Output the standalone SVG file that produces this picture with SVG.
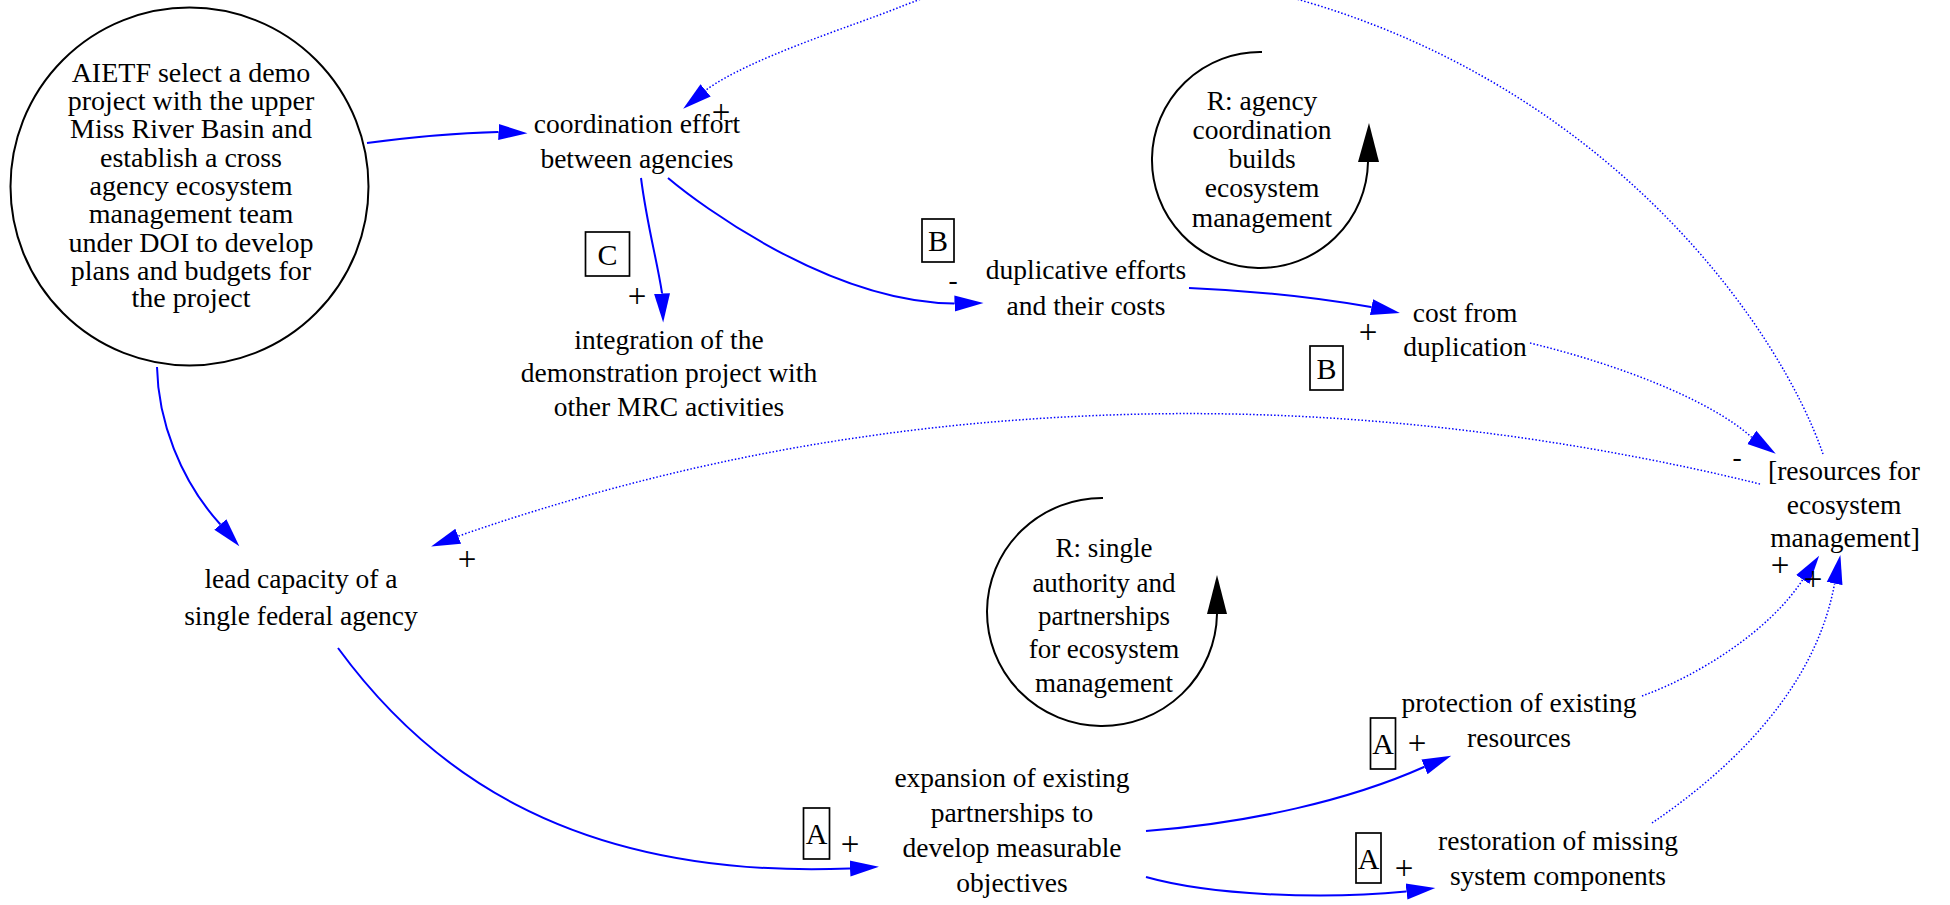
<svg xmlns="http://www.w3.org/2000/svg" width="1950" height="905" viewBox="0 0 1950 905">
<style>
text{font-family:"Liberation Serif","Times New Roman",serif;font-size:27.5px;fill:#000;text-anchor:middle}
.big{font-size:28px}
.lb{font-size:27px}
.pl{font-size:33px}
.box{fill:none;stroke:#000;stroke-width:1.7}
.bl{font-size:30px}
.e{fill:none;stroke:#0000ff;stroke-width:2}
.d{fill:none;stroke:#0000ff;stroke-width:1.5;stroke-dasharray:1.5 2}
.loop{fill:none;stroke:#000;stroke-width:2}
</style>
<defs>
<marker id="ah" markerUnits="userSpaceOnUse" markerWidth="30" markerHeight="20" viewBox="0 -10 30 20" refX="0" refY="0" orient="auto">
<path d="M0,-8 L29,0 L0,8 z" fill="#0000ff"/>
</marker>
</defs>
<rect width="1950" height="905" fill="#fff"/>

<g id="connectors">
<path class="e" marker-end="url(#ah)" d="M367,143 C420,136 460,133 498,132 l0.5,0.02"/>
<path class="e" marker-end="url(#ah)" d="M641,178 C647,225 657,260 662,293 l0.02,0.5"/>
<path class="e" marker-end="url(#ah)" d="M668,178 C700,205 830,302 954,303.5 l0.5,-0.01"/>
<path class="e" marker-end="url(#ah)" d="M1189,288 C1260,291 1320,298 1371,307 l0.49,0.1"/>
<path class="e" marker-end="url(#ah)" d="M157,367 C158,420 180,480 220,524 l0.33,0.38"/>
<path class="e" marker-end="url(#ah)" d="M338,648 C420,760 560,880 849.5,868.5 l0.5,-0.03"/>
<path class="e" marker-end="url(#ah)" d="M1146,831 C1250,823 1350,800 1424,767 l0.46,-0.19"/>
<path class="e" marker-end="url(#ah)" d="M1146,877 C1210,895 1320,900 1406,891.5 l0.5,-0.06"/>
<path class="d" marker-end="url(#ah)" d="M1530,343 C1620,365 1710,400 1751.4,437 l0.41,0.28"/>
<path class="d" marker-end="url(#ah)" d="M1760,484 C1560,435 1350,410 1146,414 C950,418 720,445 458.7,536 l-0.47,0.18"/>
<path class="d" marker-end="url(#ah)" d="M1823,454 C1780,330 1620,100 1320,6 C1100,-63 960,-17 900,7 C850,27 750,58 706,90 l-0.39,0.32"/>
<path class="d" marker-end="url(#ah)" d="M1642,696 C1700,675 1770,630 1802.5,580 l0.28,-0.41"/>
<path class="d" marker-end="url(#ah)" d="M1652,823 C1730,770 1815,690 1834.5,584 l0.1,-0.49"/>

<text class="pl" x="721" y="123">+</text>
<text class="pl" x="637" y="307">+</text>
<text x="953" y="289">-</text>
<text class="pl" x="1368" y="343">+</text>
<text x="1737" y="466">-</text>
<text class="pl" x="467" y="570">+</text>
<text class="pl" x="850" y="855">+</text>
<text class="pl" x="1417" y="754">+</text>
<text class="pl" x="1404" y="879">+</text>
<text class="pl" x="1780" y="576">+</text>
<text class="pl" x="1813" y="590">+</text>

<rect class="box" x="585.5" y="232" width="44" height="44"/>
<text class="bl" x="607.5" y="265">C</text>
<rect class="box" x="922" y="219" width="32" height="43"/>
<text class="bl" x="938" y="251">B</text>
<rect class="box" x="1310" y="346" width="33" height="44"/>
<text class="bl" x="1326.5" y="379">B</text>
<rect class="box" x="803.5" y="808" width="26" height="51"/>
<text class="bl" x="816.5" y="844">A</text>
<rect class="box" x="1370.5" y="718" width="25" height="51"/>
<text class="bl" x="1383" y="754">A</text>
<rect class="box" x="1356" y="833" width="25" height="50"/>
<text class="bl" x="1368.5" y="868.5">A</text>
</g>

<g id="n_aietf">
<circle cx="189.5" cy="186.5" r="179" fill="none" stroke="#000" stroke-width="2"/>
<text class="big" x="191" y="82">AIETF select a demo</text>
<text class="big" x="191" y="110">project with the upper</text>
<text class="big" x="191" y="138">Miss River Basin and</text>
<text class="big" x="191" y="167">establish a cross</text>
<text class="big" x="191" y="195">agency ecosystem</text>
<text class="big" x="191" y="223">management team</text>
<text class="big" x="191" y="252">under DOI to develop</text>
<text class="big" x="191" y="280">plans and budgets for</text>
<text class="big" x="191" y="307">the project</text>
</g>

<g id="n_coord">
<text x="637" y="133">coordination effort</text>
<text x="637" y="168">between agencies</text>
</g>

<g id="n_integ">
<text x="669" y="349">integration of the</text>
<text x="669" y="382">demonstration project with</text>
<text x="669" y="416">other MRC activities</text>
</g>

<g id="n_dup">
<text x="1086" y="279">duplicative efforts</text>
<text x="1086" y="315">and their costs</text>
</g>

<g id="n_cost">
<text x="1465" y="322">cost from</text>
<text x="1465" y="356">duplication</text>
</g>

<g id="n_res">
<text x="1844" y="480">[resources for</text>
<text x="1844" y="514">ecosystem</text>
<text x="1845" y="547">management]</text>
</g>

<g id="n_lead">
<text x="301" y="588">lead capacity of a</text>
<text x="301" y="625">single federal agency</text>
</g>

<g id="n_exp">
<text x="1012" y="787">expansion of existing</text>
<text x="1012" y="822">partnerships to</text>
<text x="1012" y="857">develop measurable</text>
<text x="1012" y="892">objectives</text>
</g>

<g id="n_prot">
<text x="1519" y="712">protection of existing</text>
<text x="1519" y="747">resources</text>
</g>

<g id="n_rest">
<text x="1558" y="850">restoration of missing</text>
<text x="1558" y="885">system components</text>
</g>

<g id="loop_agency">
<path class="loop" d="M1262,52 A108,108 0 1,0 1368,162"/>
<polygon points="1358,162 1379,162 1369,123" fill="#000"/>
<text x="1262" y="110">R: agency</text>
<text x="1262" y="139">coordination</text>
<text x="1262" y="168">builds</text>
<text x="1262" y="197">ecosystem</text>
<text x="1262" y="227">management</text>
</g>

<g id="loop_single">
<path class="loop" d="M1103,498 A115,114 0 1,0 1217,614"/>
<polygon points="1207,614 1227,614 1217,575" fill="#000"/>
<text class="lb" x="1104" y="557">R: single</text>
<text class="lb" x="1104" y="592">authority and</text>
<text class="lb" x="1104" y="625">partnerships</text>
<text class="lb" x="1104" y="658">for ecosystem</text>
<text class="lb" x="1104" y="692">management</text>
</g>
</svg>
